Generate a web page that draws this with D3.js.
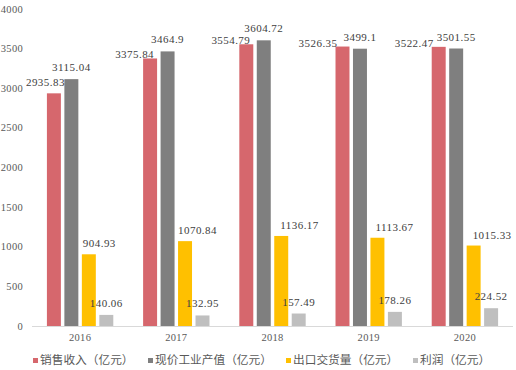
<!DOCTYPE html>
<html lang="zh">
<head>
    <meta charset="UTF-8">
    <title>销售收入</title>
    <script src="https://d3js.org/d3.v7.min.js"></script>
    <style>
        body { margin: 0; background: #fff; }
        svg { display: block; }
    </style>
</head>
<body>

<svg width="516" height="370"></svg>
<script>

    // data
    var years = ["2016", "2017", "2018", "2019", "2020"];
    var seriesNames = ["销售收入（亿元）", "现价工业产值（亿元）", "出口交货量（亿元）", "利润（亿元）"];
    var sales = [2935.83, 3375.84, 3554.79, 3526.35, 3522.47];
    var output = [3115.04, 3464.9, 3604.72, 3499.1, 3501.55];
    var exports = [904.93, 1070.84, 1136.17, 1113.67, 1015.33];
    var profit = [140.06, 132.95, 157.49, 178.26, 224.52];
    var yTicks = [0, 500, 1000, 1500, 2000, 2500, 3000, 3500, 4000];

    var colors = ["#D6676D", "#7F7F7F", "#FFC000", "#BFBFBF"];
    var allValues = [sales, output, exports, profit];

    var svg = d3.select("svg"),
        numFont = "'Liberation Serif', 'DejaVu Serif', serif",
        cjkFont = "'Noto Sans CJK SC', sans-serif";

    var x0 = d3.scaleBand()
        .domain(years)
        .range([32, 513])
        .paddingInner(0.31)
        .paddingOuter(0.155);

    var x1 = d3.scaleBand()
        .domain(d3.range(4))
        .range([0, x0.bandwidth()])
        .paddingInner(0.2);

    var y = d3.scaleLinear()
        .domain([0, 4000])
        .range([326, 9]);

    // y tick labels (no axis line, no gridlines)
    svg.append("g")
        .selectAll("text")
        .data(yTicks)
        .enter().append("text")
        .attr("x", 23)
        .attr("y", function (d) { return y(d) + 3.5; })
        .attr("text-anchor", "end")
        .attr("font-family", numFont)
        .attr("font-size", "10.5px")
        .attr("letter-spacing", "0.3px")
        .attr("fill", "#595959")
        .text(function (d) { return d; });

    // bars
    var rows = [];
    years.forEach(function (yr, i) {
        allValues.forEach(function (arr, s) {
            rows.push({year: yr, i: i, s: s, v: arr[i]});
        });
    });

    svg.append("g")
        .selectAll("rect")
        .data(rows)
        .enter().append("rect")
        .attr("x", function (d) { return x0(d.year) + x1(d.s); })
        .attr("y", function (d) { return y(d.v); })
        .attr("width", x1.bandwidth())
        .attr("height", function (d) { return y(0) - y(d.v); })
        .attr("fill", function (d) { return colors[d.s]; });

    // baseline
    svg.append("line")
        .attr("x1", 32).attr("x2", 513)
        .attr("y1", y(0) + 0.5).attr("y2", y(0) + 0.5)
        .attr("stroke", "#D9D9D9")
        .attr("stroke-width", 1);

    // x labels
    var xAxis = d3.axisBottom(x0).tickSize(0).tickPadding(8);
    var gx = svg.append("g")
        .attr("transform", "translate(0," + y(0) + ")")
        .call(xAxis);
    gx.select(".domain").remove();
    gx.selectAll("text")
        .attr("font-family", numFont)
        .attr("font-size", "10.5px")
        .attr("letter-spacing", "0.3px")
        .attr("fill", "#595959");

    // value labels, nudged like the reference to avoid overlaps
    var redDx = [4, -3, -3, -12, -12],
        redDy = [-7, 0, 0, 0, 0],
        yellowDx = [1, 0, 6, 5, 6];

    svg.append("g")
        .selectAll("text")
        .data(rows)
        .enter().append("text")
        .attr("font-family", numFont)
        .attr("font-size", "11px")
        .attr("letter-spacing", "0.45px")
        .attr("fill", "#404040")
        .attr("text-anchor", function (d) {
            if (d.s === 0) return "end";
            if (d.s === 2) return "start";
            return "middle";
        })
        .attr("x", function (d) {
            var bx = x0(d.year) + x1(d.s), w = x1.bandwidth();
            if (d.s === 0) return bx + w + redDx[d.i];
            if (d.s === 2) return bx + yellowDx[d.i];
            return bx + w / 2;
        })
        .attr("y", function (d) {
            if (d.s === 0) return y(d.v) + redDy[d.i];
            if (d.s === 2) return y(d.v) - 7;
            return y(d.v) - 8;
        })
        .text(function (d) { return d.v; });

    // legend
    var legendX = [33, 148, 286, 413];
    var legend = svg.append("g")
        .selectAll("g")
        .data(seriesNames)
        .enter().append("g")
        .attr("transform", function (d, i) { return "translate(" + legendX[i] + ",360)"; });

    legend.append("rect")
        .attr("x", 0).attr("y", -2)
        .attr("width", 5).attr("height", 5)
        .attr("fill", function (d, i) { return colors[i]; });

    legend.append("text")
        .attr("x", 7)
        .attr("y", 4)
        .attr("font-family", cjkFont)
        .attr("font-size", "11.7px")
        .attr("fill", "#595959")
        .text(function (d) { return d; });

</script>

</body>
</html>
